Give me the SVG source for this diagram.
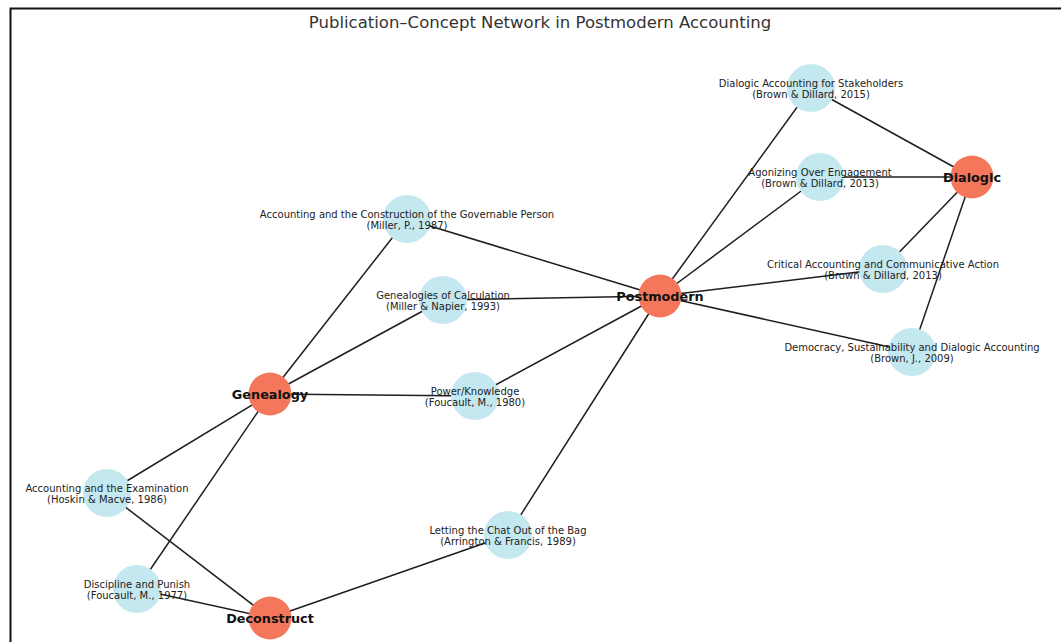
<svg xmlns="http://www.w3.org/2000/svg" width="1061" height="642" viewBox="0 0 1061 642">
<style>
.pub{fill:#c4e8f0}
.con{fill:#f4775b}
.edge{stroke:#1e1e1e;stroke-width:1.5;fill:none}
.pl{font-family:"DejaVu Sans",sans-serif;font-size:10px;fill:#222;text-anchor:middle}
.cl{font-family:"DejaVu Sans",sans-serif;font-size:12.8px;font-weight:bold;fill:#111;text-anchor:middle}
.title{font-family:"DejaVu Sans",sans-serif;font-size:16.5px;fill:#333;text-anchor:middle}
</style>
<rect width="1061" height="642" fill="#fff"/>
<path d="M10.5,642 V8.5 H1061" stroke="#111" stroke-width="2" fill="none"/>
<text class="title" x="540" y="28">Publication–Concept Network in Postmodern Accounting</text>
<g id="edges" class="edge">
<line x1="660" y1="296" x2="811" y2="88"/>
<line x1="660" y1="296" x2="820" y2="177"/>
<line x1="660" y1="296" x2="883" y2="269"/>
<line x1="660" y1="296" x2="912" y2="352"/>
<line x1="660" y1="296" x2="407" y2="219"/>
<line x1="660" y1="296" x2="443" y2="300"/>
<line x1="660" y1="296" x2="475" y2="396"/>
<line x1="660" y1="296" x2="508" y2="535"/>
<line x1="972" y1="177" x2="811" y2="88"/>
<line x1="972" y1="177" x2="820" y2="177"/>
<line x1="972" y1="177" x2="883" y2="269"/>
<line x1="972" y1="177" x2="912" y2="352"/>
<line x1="270" y1="394" x2="407" y2="219"/>
<line x1="270" y1="394" x2="443" y2="300"/>
<line x1="270" y1="394" x2="475" y2="396"/>
<line x1="270" y1="394" x2="107" y2="493"/>
<line x1="270" y1="394" x2="137" y2="589"/>
<line x1="270" y1="618" x2="107" y2="493"/>
<line x1="270" y1="618" x2="137" y2="589"/>
<line x1="270" y1="618" x2="508" y2="535"/>
</g>
<g id="n-stake"><circle class="pub" cx="811" cy="88" r="24"/><text class="pl" x="811" y="86.5">Dialogic Accounting for Stakeholders</text><text class="pl" x="811" y="97.5">(Brown &amp; Dillard, 2015)</text></g>
<g id="n-agon"><circle class="pub" cx="820" cy="177" r="24"/><text class="pl" x="820" y="175.5">Agonizing Over Engagement</text><text class="pl" x="820" y="186.5">(Brown &amp; Dillard, 2013)</text></g>
<g id="n-gov"><circle class="pub" cx="407" cy="219" r="24"/><text class="pl" x="407" y="217.5">Accounting and the Construction of the Governable Person</text><text class="pl" x="407" y="228.5">(Miller, P., 1987)</text></g>
<g id="n-crit"><circle class="pub" cx="883" cy="269" r="24"/><text class="pl" x="883" y="267.5">Critical Accounting and Communicative Action</text><text class="pl" x="883" y="278.5">(Brown &amp; Dillard, 2013)</text></g>
<g id="n-calc"><circle class="pub" cx="443" cy="300" r="24"/><text class="pl" x="443" y="298.5">Genealogies of Calculation</text><text class="pl" x="443" y="309.5">(Miller &amp; Napier, 1993)</text></g>
<g id="n-demo"><circle class="pub" cx="912" cy="352" r="24"/><text class="pl" x="912" y="350.5">Democracy, Sustainability and Dialogic Accounting</text><text class="pl" x="912" y="361.5">(Brown, J., 2009)</text></g>
<g id="n-pk"><circle class="pub" cx="475" cy="396" r="24"/><text class="pl" x="475" y="394.5">Power/Knowledge</text><text class="pl" x="475" y="405.5">(Foucault, M., 1980)</text></g>
<g id="n-exam"><circle class="pub" cx="107" cy="493" r="24"/><text class="pl" x="107" y="491.5">Accounting and the Examination</text><text class="pl" x="107" y="502.5">(Hoskin &amp; Macve, 1986)</text></g>
<g id="n-chat"><circle class="pub" cx="508" cy="535" r="24"/><text class="pl" x="508" y="533.5">Letting the Chat Out of the Bag</text><text class="pl" x="508" y="544.5">(Arrington &amp; Francis, 1989)</text></g>
<g id="n-disc"><circle class="pub" cx="137" cy="589" r="24"/><text class="pl" x="137" y="587.5">Discipline and Punish</text><text class="pl" x="137" y="598.5">(Foucault, M., 1977)</text></g>
<g id="n-post"><circle class="con" cx="660" cy="296" r="21.5"/><text class="cl" x="660" y="300.5">Postmodern</text></g>
<g id="n-dial"><circle class="con" cx="972" cy="177" r="21.5"/><text class="cl" x="972" y="181.5">Dialogic</text></g>
<g id="n-gen"><circle class="con" cx="270" cy="394" r="21.5"/><text class="cl" x="270" y="398.5">Genealogy</text></g>
<g id="n-dec"><circle class="con" cx="270" cy="618" r="21.5"/><text class="cl" x="270" y="622.5">Deconstruct</text></g>
</svg>
